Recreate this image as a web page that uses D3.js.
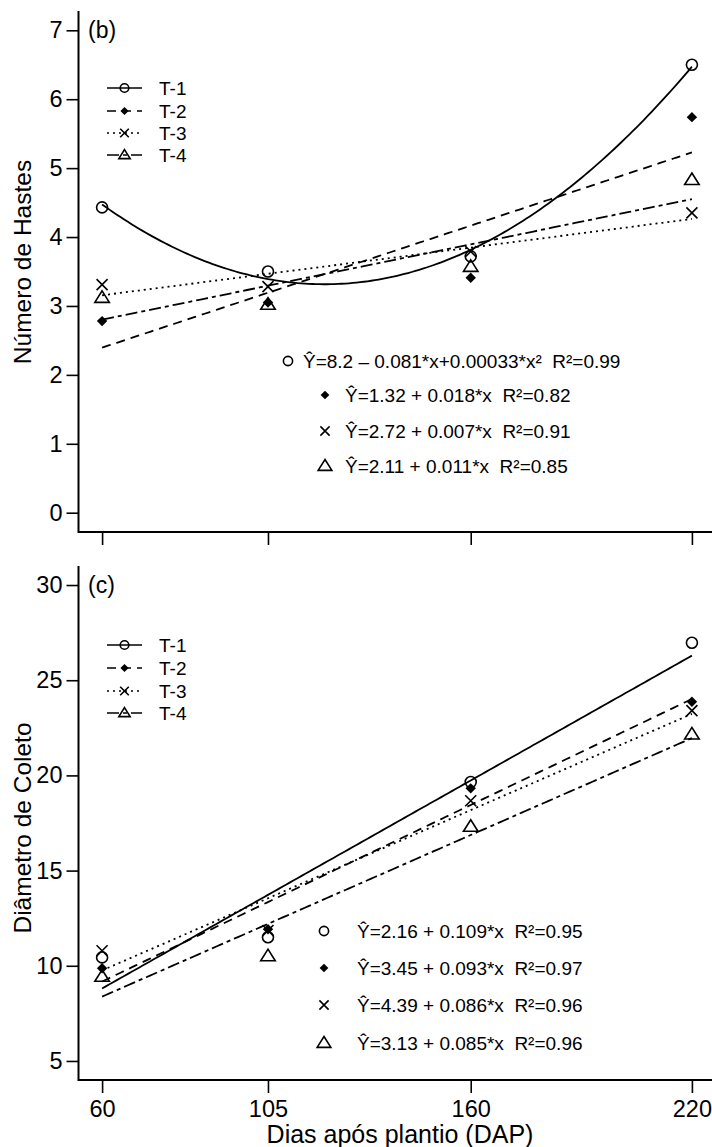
<!DOCTYPE html>
<html>
<head>
<meta charset="utf-8">
<script src="https://cdn.jsdelivr.net/npm/d3@7"></script>
<style>
  html, body { margin: 0; padding: 0; background: #fff; }
  svg { display: block; font-family: "Liberation Sans", Arial, sans-serif; }
  text { white-space: pre; }
</style>
</head>
<body>
<svg id="chart" width="712" height="1147"></svg>
<script>
// ---------------- DATA ----------------
const days = [60, 105, 160, 220];
const treatments = ["T-1", "T-2", "T-3", "T-4"];
const markers = ["circle", "diamond", "cross", "triangle"];
const dashes = [null, "9,6", "2,4", "12,4,4,4"];

// Panel (b): Número de Hastes
const hastesT1 = [4.43, 3.50, 3.72, 6.50];
const hastesT2 = [2.78, 3.05, 3.41, 5.74];
const hastesT3 = [3.31, 3.28, 3.79, 4.35];
const hastesT4 = [3.12, 3.02, 3.57, 4.83];
const hastesDegree = [2, 1, 1, 1];
const hastesTicks = [0, 1, 2, 3, 4, 5, 6, 7];
const hastesEq = [
  "\u0176=8.2 \u2013 0.081*x+0.00033*x\u00B2  R\u00B2=0.99",
  "\u0176=1.32 + 0.018*x  R\u00B2=0.82",
  "\u0176=2.72 + 0.007*x  R\u00B2=0.91",
  "\u0176=2.11 + 0.011*x  R\u00B2=0.85"
];

// Panel (c): Diâmetro de Coleto
const coletoT1 = [10.44, 11.50, 19.65, 26.97];
const coletoT2 = [9.87, 11.92, 19.32, 23.87];
const coletoT3 = [10.79, 11.85, 18.67, 23.40];
const coletoT4 = [9.43, 10.51, 17.31, 22.16];
const coletoDegree = [1, 1, 1, 1];
const coletoTicks = [5, 10, 15, 20, 25, 30];
const coletoEq = [
  "\u0176=2.16 + 0.109*x  R\u00B2=0.95",
  "\u0176=3.45 + 0.093*x  R\u00B2=0.97",
  "\u0176=4.39 + 0.086*x  R\u00B2=0.96",
  "\u0176=3.13 + 0.085*x  R\u00B2=0.96"
];

const xLabel = "Dias após plantio (DAP)";

// ---------------- HELPERS ----------------
function polyFit(xs, ys, deg) {
  const n = deg + 1;
  const A = Array.from({length: n}, () => new Array(n).fill(0));
  const b = new Array(n).fill(0);
  xs.forEach((x, k) => {
    for (let i = 0; i < n; i++) {
      b[i] += ys[k] * Math.pow(x, i);
      for (let j = 0; j < n; j++) A[i][j] += Math.pow(x, i + j);
    }
  });
  for (let i = 0; i < n; i++) {
    let p = i;
    for (let r = i + 1; r < n; r++) if (Math.abs(A[r][i]) > Math.abs(A[p][i])) p = r;
    [A[i], A[p]] = [A[p], A[i]]; [b[i], b[p]] = [b[p], b[i]];
    for (let r = i + 1; r < n; r++) {
      const f = A[r][i] / A[i][i];
      for (let c = i; c < n; c++) A[r][c] -= f * A[i][c];
      b[r] -= f * b[i];
    }
  }
  const coef = new Array(n).fill(0);
  for (let i = n - 1; i >= 0; i--) {
    let s = b[i];
    for (let c = i + 1; c < n; c++) s -= A[i][c] * coef[c];
    coef[i] = s / A[i][i];
  }
  return x => coef.reduce((acc, c, i) => acc + c * Math.pow(x, i), 0);
}

function drawMarker(g, type, x, y, s) {
  const sw = 1.6;
  if (type === "circle") {
    g.append("circle").attr("cx", x).attr("cy", y).attr("r", s)
      .attr("fill", "none").attr("stroke", "#000").attr("stroke-width", sw);
  } else if (type === "diamond") {
    const h = s * 0.95;
    g.append("path").attr("d", `M${x},${y - h}L${x + h},${y}L${x},${y + h}L${x - h},${y}Z`)
      .attr("fill", "#000");
  } else if (type === "cross") {
    const h = s;
    g.append("path").attr("d", `M${x - h},${y - h}L${x + h},${y + h}M${x - h},${y + h}L${x + h},${y - h}`)
      .attr("stroke", "#000").attr("stroke-width", sw).attr("fill", "none");
  } else if (type === "triangle") {
    const w = s * 1.32, top = s * 1.25, bot = s * 0.85;
    g.append("path").attr("d", `M${x},${y - top}L${x + w},${y + bot}L${x - w},${y + bot}Z`)
      .attr("stroke", "#000").attr("stroke-width", sw).attr("fill", "none");
  }
}

const svg = d3.select("#chart");
svg.append("rect").attr("width", 712).attr("height", 1147).attr("fill", "#fff");

const x = d3.scaleLinear().domain([53.6, 226.4]).range([78.5, 715.5]);

function panel(opt) {
  const g = svg.append("g");
  const y = d3.scaleLinear().domain(opt.domain).range([opt.bottom, opt.top]);
  const series = opt.series;

  const yAxis = d3.axisLeft(y).tickValues(opt.ticks).tickSize(12).tickPadding(4).tickFormat(d3.format("d"));
  const ga = g.append("g").attr("transform", `translate(${x.range()[0]},0)`).call(yAxis);
  ga.select(".domain").remove();
  ga.selectAll("line").attr("stroke", "#000").attr("stroke-width", 1.6);
  ga.selectAll("text").attr("font-size", 23.5).attr("font-family", "Liberation Sans, Arial, sans-serif").attr("fill", "#000");

  const xAxis = d3.axisBottom(x).tickValues(days).tickSize(13).tickPadding(7).tickFormat(d3.format("d"));
  const gx = g.append("g").attr("transform", `translate(0,${opt.bottom})`).call(xAxis);
  gx.select(".domain").remove();
  gx.selectAll("line").attr("stroke", "#000").attr("stroke-width", 1.6);
  gx.selectAll("text").attr("font-size", 23.5).attr("font-family", "Liberation Sans, Arial, sans-serif").attr("fill", "#000");
  if (!opt.showXLabels) gx.selectAll("text").remove();

  g.append("path")
    .attr("d", `M${x.range()[0]},${opt.top}V${opt.bottom}H${712}`)
    .attr("fill", "none").attr("stroke", "#000").attr("stroke-width", 2);

  const line = d3.line().x(d => x(d[0])).y(d => y(d[1]));
  series.forEach((vals, i) => {
    const f = polyFit(days, vals, opt.degree[i]);
    const pts = d3.range(60, 220.5, 1).map(d => [d, f(d)]);
    g.append("path").attr("d", line(pts)).attr("fill", "none")
      .attr("stroke", "#000").attr("stroke-width", 1.8)
      .attr("stroke-dasharray", dashes[i]);
  });

  series.forEach((vals, i) => {
    vals.forEach((v, k) => drawMarker(g, markers[i], x(days[k]), y(v), 5.5));
  });

  g.append("text").attr("x", 88).attr("y", y(opt.ticks[opt.ticks.length - 1]) + 8)
    .attr("font-size", 23).text(opt.tag);

  g.append("text").attr("transform", `translate(31,${opt.ylabelCenter}) rotate(-90)`)
    .attr("text-anchor", "middle").attr("font-size", 24.5).text(opt.ylabel);

  opt.legendY.forEach((ly, i) => {
    g.append("line").attr("x1", 107).attr("x2", 142).attr("y1", ly).attr("y2", ly)
      .attr("stroke", "#000").attr("stroke-width", 1.6).attr("stroke-dasharray", dashes[i]);
    drawMarker(g, markers[i], 124.5, ly, 4.3);
    g.append("text").attr("x", 159).attr("y", ly + 7).attr("font-size", 19).text(treatments[i]);
  });

  opt.eq.forEach((t, i) => {
    const ey = opt.eqY[i];
    drawMarker(g, markers[i], opt.eqSymX[i], ey, markers[i] === "triangle" ? 5.2 : 4.6);
    g.append("text").attr("x", opt.eqTextX[i]).attr("y", ey + 7).attr("font-size", 19).text(t);
  });
}

panel({
  top: 11, bottom: 532, domain: [-0.28, 7.28], ticks: hastesTicks,
  series: [hastesT1, hastesT2, hastesT3, hastesT4], degree: hastesDegree,
  tag: "(b)", ylabel: "Número de Hastes", ylabelCenter: 262, showXLabels: false,
  legendY: [88, 111, 133, 155],
  eq: hastesEq, eqY: [361, 395, 431, 466],
  eqSymX: [288, 325, 325, 325], eqTextX: [303, 345, 345, 345]
});

panel({
  top: 566, bottom: 1080, domain: [4, 31], ticks: coletoTicks,
  series: [coletoT1, coletoT2, coletoT3, coletoT4], degree: coletoDegree,
  tag: "(c)", ylabel: "Diâmetro de Coleto", ylabelCenter: 828, showXLabels: true,
  legendY: [645, 668, 691, 713],
  eq: coletoEq, eqY: [931, 968, 1005, 1043],
  eqSymX: [324, 324, 324, 324], eqTextX: [357, 357, 357, 357]
});

svg.append("text").attr("x", 400).attr("y", 1143).attr("text-anchor", "middle")
  .attr("font-size", 25).text(xLabel);
</script>
</body>
</html>
